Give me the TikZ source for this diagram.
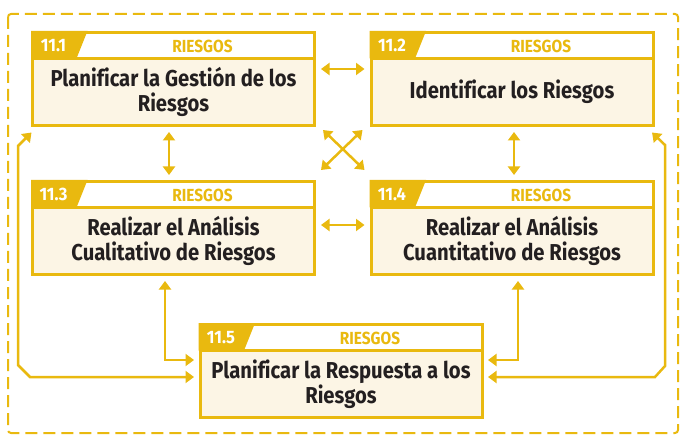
\documentclass[tikz,border=0pt]{standalone}
\usepackage{fontspec}
\newfontfamily\cond{Fira Sans}[FakeStretch=0.88,Ligatures=NoCommon]
\newfontfamily\condn{Fira Sans}[FakeStretch=0.92]
\usetikzlibrary{arrows.meta,calc}
\definecolor{gold}{RGB}{233,185,15}
\definecolor{cream}{RGB}{252,245,229}
\definecolor{ink}{RGB}{35,31,32}
\tikzset{
  boxbody/.style={draw=gold,fill=cream,line width=3pt,inner sep=0pt,outer sep=0pt,
    minimum width=282pt,minimum height=93pt},
  numtxt/.style={text=white,font=\condn\bfseries\fontsize{18}{20}\selectfont,inner sep=0pt},
  hdrtxt/.style={text=gold,font=\cond\bfseries\fontsize{17.5}{19}\selectfont,inner sep=0pt},
  bodytxt/.style={text=ink,font=\cond\bfseries\fontsize{23}{25}\selectfont,align=center,inner sep=0pt},
  conn/.style={draw=gold,line width=2.5pt,{Triangle[width=12pt,length=8.5pt]}-{Triangle[width=12pt,length=8.5pt]}},
  outer/.style={draw=gold,line width=2pt,dash pattern=on 12pt off 6pt,rounded corners=3pt}
}
% #1 name, #2 center x, #3 center y, #4 number, #5 body text
\newcommand\riskbox[5]{%
  \node[boxbody] (#1) at (#2,#3) {};
  \fill[white] ([xshift=1.5pt,yshift=-1.5pt]#1.north west) rectangle ([xshift=-1.5pt,yshift=-26pt]#1.north east);
  \fill[gold] ([xshift=-1.5pt,yshift=1.5pt]#1.north west) -- ([xshift=55pt,yshift=1.5pt]#1.north west)
     -- ([xshift=44pt,yshift=-26pt]#1.north west) -- ([xshift=-1.5pt,yshift=-26pt]#1.north west) -- cycle;
  \draw[gold,line width=3pt] ([yshift=-26pt]#1.north west) -- ([yshift=-26pt]#1.north east);
  \draw[gold,line width=3pt] (#1.north west) rectangle (#1.south east);
  \node[numtxt] (#1-num) at ([xshift=21pt,yshift=-13pt]#1.north west) {#4};
  \node[hdrtxt] (#1-hdr) at ([xshift=29pt,yshift=-13.5pt]#1.north) {RIESGOS};
  \node[bodytxt] (#1-txt) at ([yshift=-13pt]#1.center) {#5};
}
\begin{document}
\begin{tikzpicture}[x=1pt,y=-1pt]
\useasboundingbox (0,0) rectangle (687,443);
\draw[outer] (8,14) rectangle (678,433);
\riskbox{b1}{173.5}{79}{11.1}{Planificar la Gestión de los\\Riesgos}
\riskbox{b2}{512}{79}{11.2}{Identificar los Riesgos}
\riskbox{b3}{173.5}{228}{11.3}{Realizar el Análisis\\Cualitativo de Riesgos}
\riskbox{b4}{512}{228}{11.4}{Realizar el Análisis\\Cuantitativo de Riesgos}
\riskbox{b5}{341}{371}{11.5}{Planificar la Respuesta a los\\Riesgos}
% connectors
\draw[conn] ([xshift=6.5pt,yshift=10pt]b1.east) -- ([xshift=-6.5pt,yshift=10pt]b2.west);
\draw[conn] ([xshift=6.5pt,yshift=3pt]b3.east) -- ([xshift=-6.5pt,yshift=3pt]b4.west);
\draw[conn] ([xshift=-4.5pt,yshift=-6.5pt]b1.south) -- ([xshift=-4.5pt,yshift=6.5pt]b3.north);
\draw[conn] ([xshift=2pt,yshift=-6.5pt]b2.south) -- ([xshift=2pt,yshift=6.5pt]b4.north);
\draw[conn] ([xshift=8.5pt,yshift=-4.5pt]b1.south east) -- ([xshift=-6.5pt,yshift=11.5pt]b4.north west);
\draw[conn] ([xshift=-8.5pt,yshift=-4.5pt]b2.south west) -- ([xshift=6.5pt,yshift=11.5pt]b3.north east);
\draw[conn] ([xshift=-8.5pt,yshift=-6.5pt]b3.south) |- ([xshift=-6pt,yshift=11pt]b5.west);
\draw[conn] ([xshift=6pt,yshift=-6.5pt]b4.south) |- ([xshift=6pt,yshift=11pt]b5.east);
\draw[conn] ([xshift=-6pt,yshift=-6pt]b5.west) -- (30,377) -- (18,365) -- (18,146)
   -- ([xshift=-1pt,yshift=-7pt]b1.south west);
\draw[conn] ([xshift=6pt,yshift=-6pt]b5.east) -- (655,377) -- (665,366) -- (665,145)
   -- ([xshift=-1pt,yshift=-7pt]b2.south east);
\end{tikzpicture}
\end{document}
